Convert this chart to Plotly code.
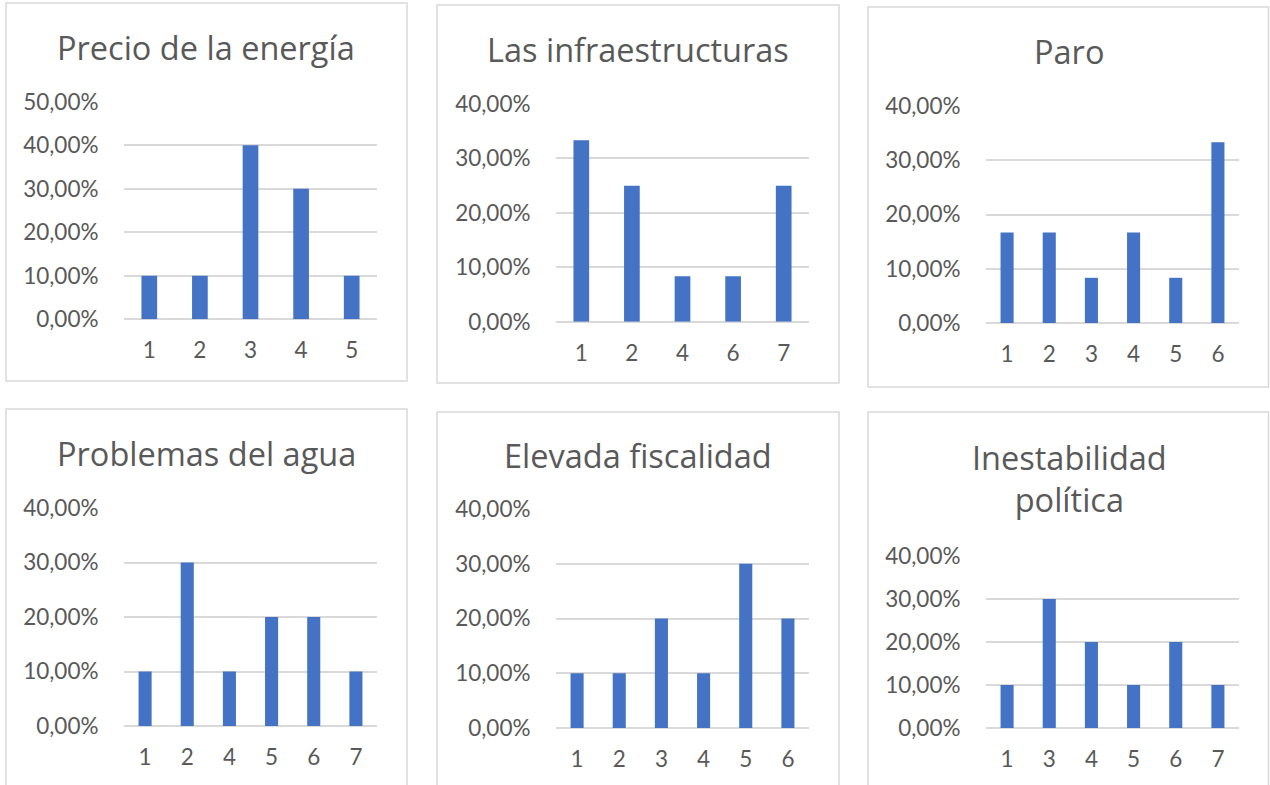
import plotly.graph_objects as go

# ---- data ----
titles = ["Precio de la energía", "Las infraestructuras", "Paro",
          "Problemas del agua", "Elevada fiscalidad", "Inestabilidad<br>política"]
cats_energia = ["1", "2", "3", "4", "5"]
vals_energia = [0.10, 0.10, 0.40, 0.30, 0.10]
cats_infra = ["1", "2", "4", "6", "7"]
vals_infra = [0.3333, 0.25, 0.0833, 0.0833, 0.25]
cats_paro = ["1", "2", "3", "4", "5", "6"]
vals_paro = [0.1667, 0.1667, 0.0833, 0.1667, 0.0833, 0.3333]
cats_agua = ["1", "2", "4", "5", "6", "7"]
vals_agua = [0.10, 0.30, 0.10, 0.20, 0.20, 0.10]
cats_fiscal = ["1", "2", "3", "4", "5", "6"]
vals_fiscal = [0.10, 0.10, 0.20, 0.10, 0.30, 0.20]
cats_inest = ["1", "3", "4", "5", "6", "7"]
vals_inest = [0.10, 0.30, 0.20, 0.10, 0.20, 0.10]
y_max = [0.5, 0.4, 0.4, 0.4, 0.4, 0.4]

cats = [cats_energia, cats_infra, cats_paro, cats_agua, cats_fiscal, cats_inest]
vals = [vals_energia, vals_infra, vals_paro, vals_agua, vals_fiscal, vals_inest]

# ---- layout geometry (pixels) ----
W, H = 1270, 785
# border (x0,y0,x1,y1), plot area (x0, ytop, x1, ybottom), title (cx, cy)
panels = [
    dict(border=(6, 3, 407, 381), plot=(124, 101.7, 377, 319.3), title=(206, 48)),
    dict(border=(437, 5, 839, 383), plot=(556, 104, 809, 321.7), title=(638, 50)),
    dict(border=(868, 7, 1268.5, 387), plot=(986, 106, 1239, 323), title=(1069, 52)),
    dict(border=(6, 409, 407, 792), plot=(124, 508, 377, 726), title=(206, 453)),
    dict(border=(437, 412, 839, 792), plot=(556, 509, 809, 728), title=(638, 455)),
    dict(border=(868, 412, 1268.5, 792), plot=(986, 556, 1239, 728), title=(1069, 478.5)),
]

def px(x):
    return x / W

def py(y):
    return 1 - y / H

fig = go.Figure()
BAR = "#4472C4"
GRID = "#D9D9D9"
TXT = "#595959"
TICKFONT = dict(family="Lato, Open Sans, sans-serif", size=22.5, color=TXT)

shapes = []
annotations = []
for i, p in enumerate(panels):
    n = i + 1
    xa = "x" if n == 1 else f"x{n}"
    ya = "y" if n == 1 else f"y{n}"
    fig.add_trace(go.Bar(x=cats[i], y=vals[i], marker_color=BAR,
                         marker_line_width=0, xaxis=xa, yaxis=ya,
                         showlegend=False))
    x0, yt, x1, yb = p["plot"]
    xkey = "xaxis" if n == 1 else f"xaxis{n}"
    ykey = "yaxis" if n == 1 else f"yaxis{n}"
    fig.update_layout(**{
        xkey: dict(domain=[px(x0), px(x1)], anchor=ya, type="category",
                   showgrid=False, zeroline=False, showline=False,
                   ticks="outside", ticklen=11, tickcolor="rgba(0,0,0,0)",
                   tickfont=TICKFONT, fixedrange=True, automargin=False),
        ykey: dict(domain=[py(yb), py(yt)], anchor=xa, range=[0, y_max[i]],
                   dtick=0.1, tickformat=".2%", showgrid=True,
                   gridcolor=GRID, gridwidth=1.5, zeroline=True,
                   zerolinecolor=GRID, zerolinewidth=1.5, showline=False,
                   ticks="outside", ticklen=20, tickcolor="rgba(0,0,0,0)",
                   tickfont=TICKFONT, fixedrange=True, automargin=False),
    })
    bx0, by0, bx1, by1 = p["border"]
    shapes.append(dict(type="rect", xref="paper", yref="paper",
                       x0=px(bx0), x1=px(bx1), y0=py(by1), y1=py(by0),
                       line=dict(color=GRID, width=1.5), fillcolor="rgba(0,0,0,0)",
                       layer="below"))
    cx, cy = p["title"]
    annotations.append(dict(text=titles[i], xref="paper", yref="paper",
                            x=px(cx), y=py(cy), xanchor="center", yanchor="middle",
                            showarrow=False,
                            font=dict(family="Open Sans, sans-serif", size=32.5, color=TXT)))

fig.update_layout(width=W, height=H, margin=dict(l=0, r=0, t=0, b=0, pad=0),
                  paper_bgcolor="white", plot_bgcolor="white",
                  separators=",.", bargap=0.69, shapes=shapes,
                  annotations=annotations, autosize=False)

fig.write_html("out.html", config={"displayModeBar": False},
               post_script="document.body.style.margin='0';"
                           "document.body.style.padding='0';"
                           "document.documentElement.style.overflow='hidden';"
                           "document.body.style.overflow='hidden';")
